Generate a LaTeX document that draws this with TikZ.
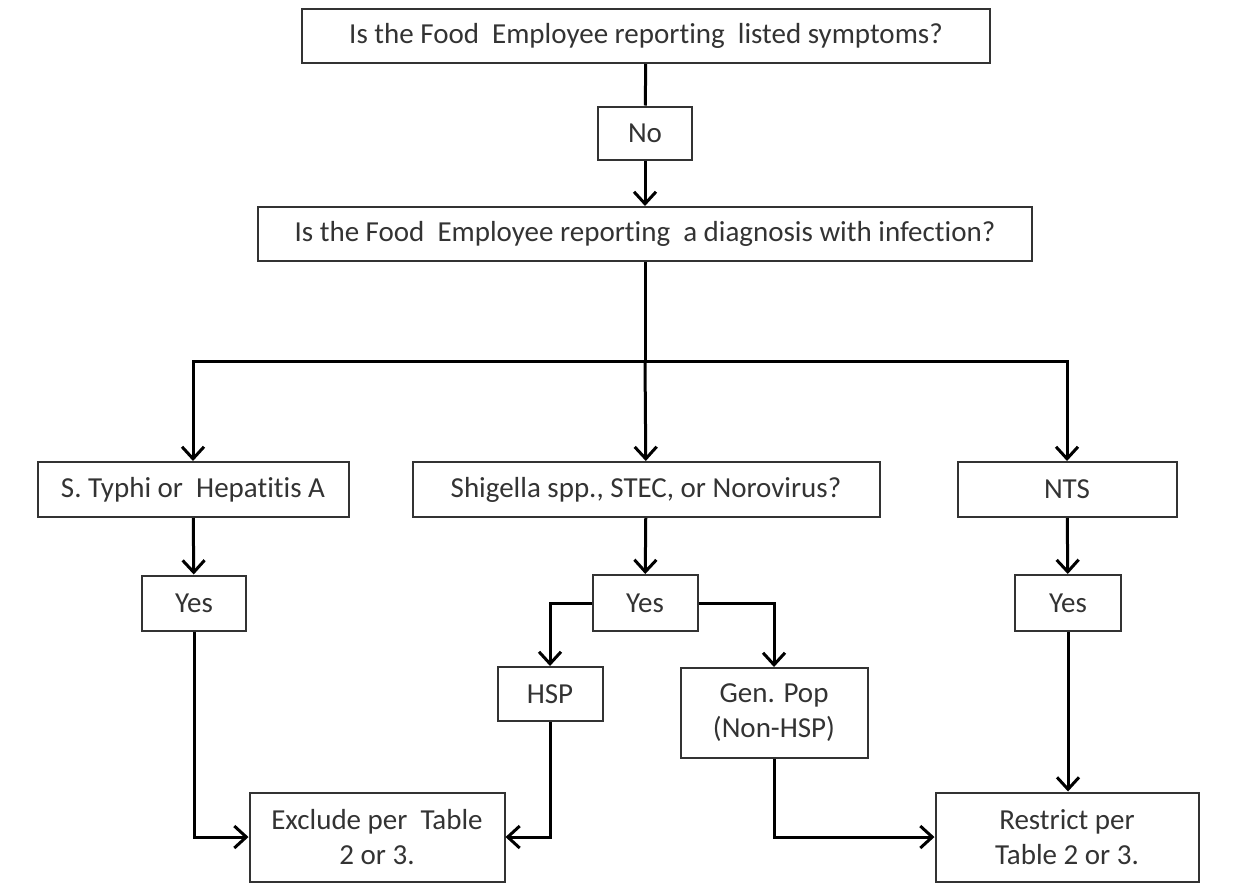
\documentclass[tikz,border=0pt]{standalone}
\usepackage{fontspec}
\setmainfont[Ligatures=NoCommon]{Carlito}
\usepackage{xcolor}
\usetikzlibrary{arrows.meta,
	positioning,
	calc}

\tikzset{
	box/.style={draw=black!80, line width=2pt, inner sep=0pt, align=center, text=black!80, font=\fontsize{29}{35}\selectfont},
	link/.style={line width=3pt, line join=miter},
	flow/.style={link, -{Straight Barb[length=12pt, width=22pt, line width=3pt]}}
}

\begin{document}
\begin{tikzpicture}[x=1pt, y=1pt]
	\useasboundingbox (0, 0) rectangle (1238, -884);
	\node[box, minimum width=688, minimum height=54] (symptoms) at (646, -36) {Is the Food\ \ Employee reporting\ \ listed symptoms?};
	\node[box, minimum width=94, minimum height=53] (no) at (645, -133) {No};
	\node[box, minimum width=774, minimum height=54] (diagnosis) at (645, -234) {Is the Food\ \ Employee reporting\ \ a diagnosis with infection?};
	\coordinate (bar) at (645, -361);
	\node[box, minimum width=311, minimum height=55] (typhi) at (193, -489.5) {S. Typhi or\ \ Hepatitis A};
	\node[box, minimum width=467, minimum height=55] (shigella) at (646, -489.5) {Shigella spp., STEC, or Norovirus?};
	\node[box, minimum width=219, minimum height=55] (nts) at (1067, -489.5) {NTS};
	\node[box, minimum width=104, minimum height=55] (yesA) at (194, -603) {Yes};
	\node[box, minimum width=105, minimum height=56] (yesB) at (645, -603) {Yes};
	\node[box, minimum width=106, minimum height=56] (yesC) at (1068, -603) {Yes};
	\node[box, minimum width=105, minimum height=54] (hsp) at (550, -694) {HSP};
	\node[box, minimum width=187, minimum height=90] (genpop) at (774, -713) {Gen. Pop\\(Non-HSP)};
	\node[box, minimum width=255, minimum height=89] (exclude) at (377, -837) {Exclude per\ \ Table\\2 or 3.};
	\node[box, minimum width=263, minimum height=89] (restrict) at (1067, -837) {Restrict per\\Table 2 or 3.};

	\draw[link] (symptoms) -- (no);
	\draw[flow] (no) -- (diagnosis);
	\draw[link] (diagnosis) -- (bar);
	\draw[flow] (bar) -| (typhi);
	\draw[flow] (bar) -- (shigella);
	\draw[flow] (bar) -| (nts);
	\draw[flow] (typhi) -- (yesA);
	\draw[flow] (shigella) -- (yesB);
	\draw[flow] (nts) -- (yesC);
	\draw[flow] (yesB.west) -| (hsp);
	\draw[flow] (yesB.east) -| (genpop);
	\draw[flow] (yesA) |- (exclude);
	\draw[flow] (hsp) |- (exclude);
	\draw[flow] (genpop) |- (restrict);
	\draw[flow] (yesC) -- (yesC |- restrict.north);
\end{tikzpicture}
\end{document}
